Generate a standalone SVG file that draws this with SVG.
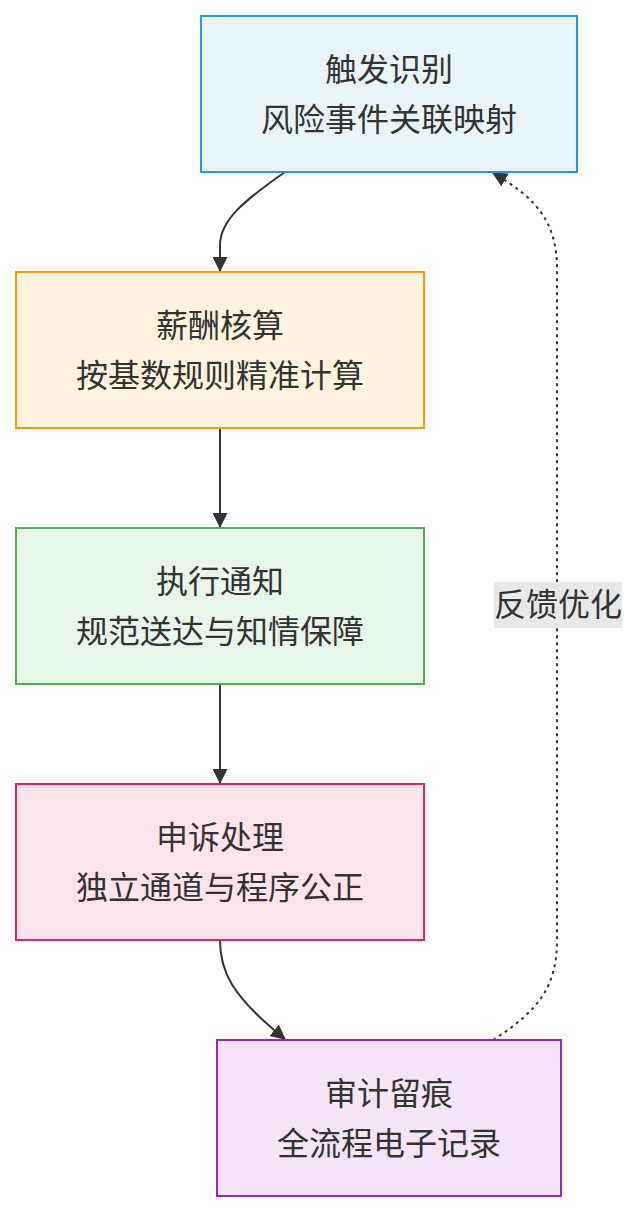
<svg xmlns="http://www.w3.org/2000/svg" width="638" height="1212" viewBox="0 0 638 1212">
<style>
.box{stroke-width:2}
.t{font-family:"Liberation Sans","Noto Sans CJK SC",sans-serif;font-size:32px;fill:#333;text-anchor:middle}
.e{fill:none;stroke:#333;stroke-width:2}
.d{stroke-dasharray:3,4}
</style>
<defs>
<marker id="a" viewBox="0 0 14 14" refX="13" refY="7" markerWidth="15" markerHeight="15" markerUnits="userSpaceOnUse" orient="auto">
<path d="M0,0 L14,7 L0,14 z" fill="#333"/>
</marker>
</defs>
<g id="edges">
<path class="e" d="M285,172 C245,200 220,220 220,245 L220,271" marker-end="url(#a)"/>
<path class="e" d="M220,428 L220,527" marker-end="url(#a)"/>
<path class="e" d="M220,684 L220,783" marker-end="url(#a)"/>
<path class="e" d="M220,940 C220,970 230,995 285,1039" marker-end="url(#a)"/>
<path class="e d" d="M493,1040 C540,1010 557,985 557,940 L557,270 C557,225 540,200 493,173" marker-end="url(#a)"/>
<g id="edge-label">
<rect x="494" y="582" width="128" height="46" fill="#e8e8e8"/>
<text class="t" x="558" y="616">反馈优化</text>
</g>
</g>
<g id="n1">
<rect class="box" x="201" y="16" width="376" height="156" fill="#e8f4f8" stroke="#2196f3"/>
<text class="t" x="389" y="81">触发识别</text>
<text class="t" x="389" y="131">风险事件关联映射</text>
</g>
<g id="n2">
<rect class="box" x="16" y="272" width="408" height="156" fill="#fff3e0" stroke="#ff9800"/>
<text class="t" x="220" y="337">薪酬核算</text>
<text class="t" x="220" y="387">按基数规则精准计算</text>
</g>
<g id="n3">
<rect class="box" x="16" y="528" width="408" height="156" fill="#e8f5e9" stroke="#4caf50"/>
<text class="t" x="220" y="593">执行通知</text>
<text class="t" x="220" y="643">规范送达与知情保障</text>
</g>
<g id="n4">
<rect class="box" x="16" y="784" width="408" height="156" fill="#fce4ec" stroke="#e91e63"/>
<text class="t" x="220" y="849">申诉处理</text>
<text class="t" x="220" y="899">独立通道与程序公正</text>
</g>
<g id="n5">
<rect class="box" x="217" y="1040" width="344" height="156" fill="#f3e5f5" stroke="#9c27b0"/>
<text class="t" x="389" y="1105">审计留痕</text>
<text class="t" x="389" y="1155">全流程电子记录</text>
</g>
</svg>
